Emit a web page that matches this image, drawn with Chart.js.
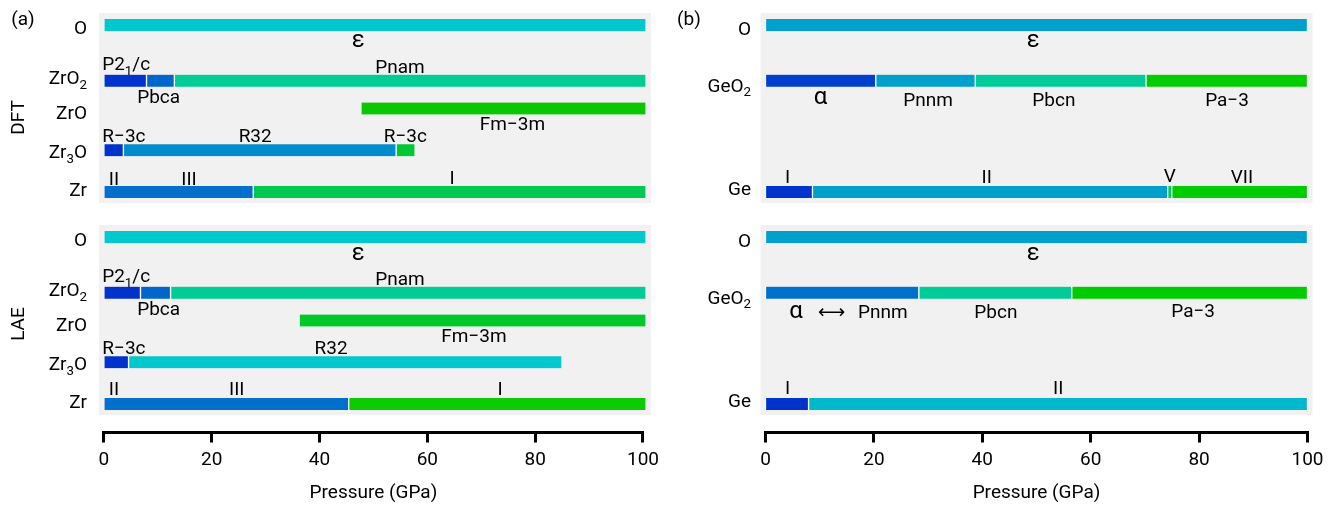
<!DOCTYPE html>
<html>
<head>
<meta charset="utf-8">
<script src="https://cdn.jsdelivr.net/npm/chart.js@4.4.1/dist/chart.umd.min.js"></script>
<style>
  html, body { margin: 0; padding: 0; background: #fff; }
  #fig { position: relative; width: 1331px; height: 506px; overflow: hidden; }
  #fig canvas { position: absolute; }
</style>
</head>
<body>
<div id="fig">
  <canvas id="zrDft" width="660" height="205" style="left:0px;top:0px"></canvas>
  <canvas id="zrLae" width="660" height="205" style="left:0px;top:212px"></canvas>
  <canvas id="zrAxis" width="665" height="89" style="left:0px;top:417px"></canvas>
  <canvas id="geDft" width="671" height="205" style="left:660px;top:0px"></canvas>
  <canvas id="geLae" width="671" height="205" style="left:660px;top:212px"></canvas>
  <canvas id="geAxis" width="666" height="89" style="left:665px;top:417px"></canvas>
</div>
<script>
// rows = compounds, placed by oxygen fraction
const zrRows = ['O', 'ZrO₂', 'ZrO', 'Zr₃O', 'Zr'];
const zrFrac = [1, 2 / 3, 1 / 2, 1 / 4, 0];
const geRows = ['O', 'GeO₂', 'Ge'];
const geFrac = [1, 2 / 3, 0];
const pressureTicks = [0, 20, 40, 60, 80, 100];

// phase segments: row index, start / end pressure (GPa)
const zrDftRow   = [0, 1, 1, 1, 2, 3, 3, 3, 4, 4];
const zrDftStart = [0, 0, 7.86, 13.0, 47.4, 0, 3.6, 53.9, 0, 27.55];
const zrDftEnd   = [100, 7.86, 13.0, 100, 100, 3.6, 53.9, 57.4, 27.55, 100];

const zrLaeRow   = [0, 1, 1, 1, 2, 3, 3, 4, 4];
const zrLaeStart = [0, 0, 6.75, 12.3, 36.0, 0, 4.55, 0, 45.15];
const zrLaeEnd   = [100, 6.75, 12.3, 100, 100, 4.55, 84.5, 45.15, 100];

const geDftRow   = [0, 1, 1, 1, 1, 2, 2, 2, 2];
const geDftStart = [0, 0, 20.35, 38.7, 70.2, 0, 8.67, 74.2, 74.95];
const geDftEnd   = [100, 20.35, 38.7, 70.2, 100, 8.67, 74.2, 74.95, 100];

const geLaeRow   = [0, 1, 1, 1, 2, 2];
const geLaeStart = [0, 0, 28.3, 56.5, 0, 7.95];
const geLaeEnd   = [100, 28.3, 56.5, 100, 7.95, 100];

// colours
const zrDftColors = ['#00c8cc', '#0033cc', '#0066cc', '#00cc96', '#0ac800', '#0033cc', '#008ccc', '#00c832', '#0070cc', '#00c850'];
const zrLaeColors = ['#00c8cc', '#0033cc', '#0066cc', '#00cc96', '#00c828', '#0033cc', '#00c8cc', '#0070cc', '#0acc00'];
const geDftColors = ['#00a0cc', '#0040cc', '#00a0cc', '#00cc99', '#00cc00', '#0033cc', '#00a0cc', '#00cc55', '#00cc00'];
const geLaeColors = ['#00a0cc', '#0070cc', '#00cc99', '#00cc00', '#0033cc', '#00b8cc'];

// phase names: [text, pressure, row, baseline offset px, font size]
const zrDftTags = [
  ['ε', 46.9, 0, 22, 24], ['P2₁/c', 4.1, 1, -10.7], ['Pbca', 10.1, 1, 22.3], ['Pnam', 54.6, 1, -7.5],
  ['Fm−3m', 75.35, 2, 21.5], ['R−3c', 3.7, 3, -8.2], ['R32', 27.9, 3, -8.2], ['R−3c', 55.6, 3, -8.2],
  ['II', 1.86, 4, -7.2], ['III', 15.7, 4, -7.2], ['I', 64.2, 4, -7.5]
];
const zrLaeTags = [
  ['ε', 46.9, 0, 23, 24], ['P2₁/c', 4.1, 1, -10.5], ['Pbca', 10.1, 1, 22.3], ['Pnam', 54.6, 1, -7.2],
  ['Fm−3m', 68.25, 2, 21.7], ['R−3c', 3.7, 3, -8], ['R32', 41.9, 3, -8],
  ['II', 1.86, 4, -9], ['III', 24.5, 4, -9], ['I', 73.05, 4, -9]
];
const geDftTags = [
  ['ε', 49.4, 0, 22, 24], ['α', 10.15, 1, 23.3, 24], ['Pnnm', 30.0, 1, 25.3], ['Pbcn', 53.2, 1, 25.3],
  ['Pa−3', 85.15, 1, 25.3], ['I', 4.1, 2, -8.7], ['II', 40.8, 2, -8.7], ['V', 74.6, 2, -9.5], ['VII', 87.9, 2, -8.7]
];
const geLaeTags = [
  ['ε', 49.4, 0, 23, 24], ['α', 5.63, 1, 25, 24], ['⟷', 12.2, 1, 25], ['Pnnm', 21.65, 1, 25],
  ['Pbcn', 42.5, 1, 25], ['Pa−3', 78.9, 1, 24.5], ['I', 4.1, 2, -9.7], ['II', 54.0, 2, -9.7]
];

const FONT = 'Roboto, "DejaVu Sans", sans-serif';

// text with unicode subscript digits drawn smaller and lowered
function drawRich(ctx, text, x, y, align, size) {
  const parts = [];
  for (const ch of text) {
    const c = ch.codePointAt(0);
    const sub = c >= 0x2080 && c <= 0x2089;
    const s = sub ? String(c - 0x2080) : ch;
    const last = parts[parts.length - 1];
    if (last && last.sub === sub) last.s += s; else parts.push({ s, sub });
  }
  let w = 0;
  parts.forEach(p => {
    ctx.font = (p.sub ? size * 0.7 : size) + 'px ' + FONT;
    p.w = ctx.measureText(p.s).width;
    w += p.w;
  });
  let cx = align === 'right' ? x - w : align === 'center' ? x - w / 2 : x;
  ctx.textAlign = 'left';
  ctx.textBaseline = 'alphabetic';
  ctx.fillStyle = '#000';
  parts.forEach(p => {
    ctx.font = (p.sub ? size * 0.7 : size) + 'px ' + FONT;
    ctx.fillText(p.s, cx, p.sub ? y + size * 0.25 : y);
    cx += p.w;
  });
}

function decor(o) {
  return {
    id: 'decor',
    beforeDatasetsDraw(chart) {
      const a = chart.chartArea, ctx = chart.ctx;
      ctx.save();
      ctx.fillStyle = '#f1f1f1';
      ctx.fillRect(a.left, a.top, a.right - a.left, a.bottom - a.top);
      ctx.restore();
    },
    afterDatasetsDraw(chart) {
      const ctx = chart.ctx, xs = chart.scales.x, ys = chart.scales.y;
      ctx.save();
      o.names.forEach((n, i) => {
        drawRich(ctx, n, o.nameRight, ys.getPixelForValue(o.frac[i]) + o.nameShift[i], 'right', 19);
      });
      o.tags.forEach(t => {
        drawRich(ctx, t[0], xs.getPixelForValue(t[1]), ys.getPixelForValue(o.frac[t[2]]) + t[3], 'center', t[4] || 19);
      });
      ctx.font = '19px ' + FONT;
      ctx.fillStyle = '#000';
      ctx.textAlign = 'center';
      ctx.textBaseline = 'middle';
      if (o.letter) ctx.fillText(o.letter[0], o.letter[1], o.letter[2]);
      if (o.side) {
        ctx.translate(o.side[1], o.side[2]);
        ctx.rotate(-Math.PI / 2);
        ctx.fillText(o.side[0], 0, 0);
      }
      ctx.restore();
    }
  };
}

function drawPanel(id, o) {
  return new Chart(document.getElementById(id), {
    type: 'bar',
    data: {
      datasets: [{
        data: o.row.map((r, i) => ({ x: [o.start[i], o.end[i]], y: o.frac[r] })),
        backgroundColor: o.colors,
        borderColor: '#ffffff',
        borderWidth: { left: 1, right: 1, top: 0, bottom: 0 },
        borderSkipped: false,
        barThickness: 12
      }]
    },
    options: {
      indexAxis: 'y',
      responsive: false,
      animation: false,
      events: [],
      layout: { padding: o.pad },
      plugins: { legend: { display: false }, tooltip: { enabled: false } },
      scales: {
        x: { type: 'linear', min: -0.9, max: 100.9, offset: false, display: false },
        y: { type: 'linear', min: -0.0659, max: 1.0719, offset: false, display: false }
      }
    },
    plugins: [decor(o)]
  });
}

function drawAxis(id, pad) {
  return new Chart(document.getElementById(id), {
    type: 'scatter',
    data: { datasets: [] },
    options: {
      responsive: false,
      animation: false,
      events: [],
      layout: { padding: pad },
      plugins: { legend: { display: false }, tooltip: { enabled: false } },
      scales: {
        x: {
          type: 'linear', min: 0, max: 100, position: 'bottom', offset: false,
          afterBuildTicks: s => { s.ticks = pressureTicks.map(v => ({ value: v })); },
          afterFit: s => { s.height = 73.5; },
          ticks: { color: '#000', padding: 6, font: { family: FONT, size: 19 } },
          grid: { display: true, drawOnChartArea: false, drawTicks: true, tickLength: 10, lineWidth: 3, color: '#000' },
          border: { display: true, width: 3, color: '#000' },
          title: { display: true, text: 'Pressure (GPa)', color: '#000', font: { family: FONT, size: 19 }, padding: { top: 0, bottom: 1 } }
        },
        y: { display: false, min: 0, max: 1 }
      }
    }
  });
}

const zrNameShift = [9, 3.3, 10.7, 7.8, 3.7];
const geNameShift = [9.5, 11, 3];
const leftPad = { left: 99, right: 9, top: 13, bottom: 2 };
const rightPad = { left: 100.6, right: 18.6, top: 13, bottom: 2 };

drawPanel('zrDft', { row: zrDftRow, start: zrDftStart, end: zrDftEnd, colors: zrDftColors, frac: zrFrac,
  names: zrRows, nameShift: zrNameShift, nameRight: 87, tags: zrDftTags, pad: leftPad,
  letter: ['(a)', 23, 20], side: ['DFT', 19, 117.5] });
drawPanel('zrLae', { row: zrLaeRow, start: zrLaeStart, end: zrLaeEnd, colors: zrLaeColors, frac: zrFrac,
  names: zrRows, nameShift: zrNameShift, nameRight: 87, tags: zrLaeTags, pad: leftPad,
  side: ['LAE', 19, 112] });
drawPanel('geDft', { row: geDftRow, start: geDftStart, end: geDftEnd, colors: geDftColors, frac: geFrac,
  names: geRows, nameShift: geNameShift, nameRight: 91, tags: geDftTags, pad: rightPad,
  letter: ['(b)', 29, 20] });
drawPanel('geLae', { row: geLaeRow, start: geLaeStart, end: geLaeEnd, colors: geLaeColors, frac: geFrac,
  names: geRows, nameShift: geNameShift, nameRight: 91, tags: geLaeTags, pad: rightPad });

drawAxis('zrAxis', { left: 103.9, right: 18.9, top: 0, bottom: 0 });
drawAxis('geAxis', { left: 100.5, right: 23.5, top: 0, bottom: 0 });
</script>
</body>
</html>
